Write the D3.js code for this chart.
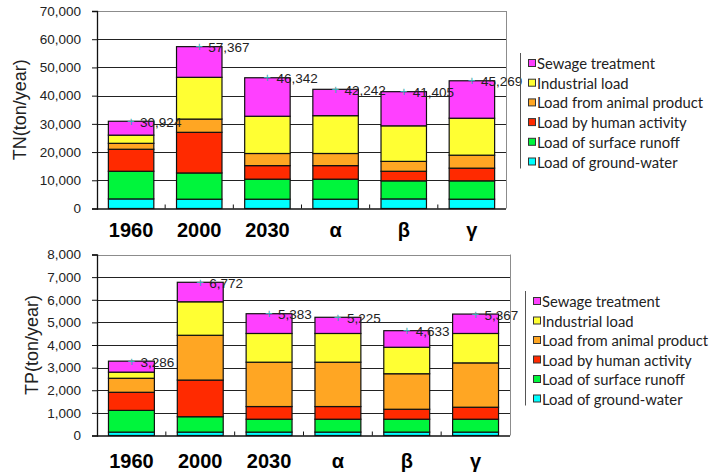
<!DOCTYPE html>
<html>
<head>
<meta charset="utf-8">
<script src="https://cdn.jsdelivr.net/npm/d3@7"></script>
<style>
  body { margin: 0; background: #fff; }
  svg { display: block; }
</style>
</head>
<body>
<div id="chart"></div>
<script>
// Categories and series names
const categories = ["1960", "2000", "2030", "α", "β", "γ"];
const seriesNames = ["Load of ground-water", "Load of surface runoff", "Load by human activity",
    "Load from animal product", "Industrial load", "Sewage treatment"];
const seriesColors = ["#00ffff", "#00f53c", "#ff2a00", "#ffa623", "#ffff33", "#ff40ff"];

// TN values (ton/year)
const tnGround = [3400, 3300, 3300, 3300, 3400, 3300];
const tnSurface = [9800, 9300, 7100, 7100, 6400, 6500];
const tnHuman = [7800, 14400, 4800, 4800, 3400, 4500];
const tnAnimal = [2100, 4700, 4300, 4300, 3500, 4600];
const tnIndustrial = [2900, 14800, 13200, 13400, 12600, 13100];
const tnSewage = [4924, 10867, 13642, 9342, 12105, 13269];
const tnTotals = [30924, 57367, 46342, 42242, 41405, 45269];
const tnTicks = [0, 10000, 20000, 30000, 40000, 50000, 60000, 70000];

// TP values (ton/year)
const tpGround = [150, 150, 150, 150, 150, 150];
const tpSurface = [960, 680, 570, 570, 570, 570];
const tpHuman = [800, 1620, 560, 560, 440, 530];
const tpAnimal = [620, 1980, 1960, 1960, 1570, 1960];
const tpIndustrial = [270, 1480, 1270, 1270, 1170, 1300];
const tpSewage = [486, 862, 873, 715, 733, 857];
const tpTotals = [3286, 6772, 5383, 5225, 4633, 5367];
const tpTicks = [0, 1000, 2000, 3000, 4000, 5000, 6000, 7000, 8000];

const svg = d3.select('#chart')
    .append('svg')
    .attr('width', 713)
    .attr('height', 476);

const fmt = d3.format(',');

function drawChart(opts) {
    const series = opts.series;
    const rows = categories.map((c, i) => {
        let row = { cat: c };
        seriesNames.forEach((s, k) => { row[s] = series[k][i]; });
        return row;
    });
    const stacked = d3.stack().keys(seriesNames)(rows);

    let xScale = d3.scaleBand()
        .domain(categories)
        .range([opts.left, opts.right])
        .paddingInner(0.333)
        .paddingOuter(0.1667);

    let yScale = d3.scaleLinear()
        .domain([0, d3.max(opts.ticks)])
        .range([opts.bottom, opts.top]);

    let g = svg.append('g');

    // gridlines
    g.selectAll('.grid')
        .data(opts.ticks.slice(1))
        .enter()
        .append('line')
        .attr('x1', opts.left)
        .attr('x2', opts.right)
        .attr('y1', d => Math.round(yScale(d)) + 0.5)
        .attr('y2', d => Math.round(yScale(d)) + 0.5)
        .attr('stroke', (d, i, a) => i === a.length - 1 ? '#8c8c8c' : '#222')
        .attr('stroke-width', 1);

    // right border
    g.append('line')
        .attr('x1', opts.right + 0.5).attr('x2', opts.right + 0.5)
        .attr('y1', yScale(d3.max(opts.ticks))).attr('y2', opts.bottom)
        .attr('stroke', '#8c8c8c');

    // stacked bars
    stacked.forEach((layer, k) => {
        g.selectAll(null)
            .data(layer)
            .enter()
            .append('rect')
            .attr('x', d => xScale(d.data.cat))
            .attr('y', d => yScale(d[1]))
            .attr('width', xScale.bandwidth())
            .attr('height', d => yScale(d[0]) - yScale(d[1]))
            .attr('fill', seriesColors[k])
            .attr('stroke', '#111')
            .attr('stroke-width', 1.2);
    });

    // y axis
    let yAxis = d3.axisLeft(yScale)
        .tickValues(opts.ticks)
        .tickFormat(fmt)
        .tickSize(5)
        .tickPadding(11);
    let ya = g.append('g')
        .attr('transform', `translate(${opts.left}, 0)`)
        .call(yAxis);
    ya.select('.domain').attr('stroke', '#111').attr('stroke-width', 1.3);
    ya.selectAll('.tick line').attr('stroke', '#111');
    ya.selectAll('text')
        .style('font-family', '"Liberation Sans", Arial, sans-serif')
        .style('font-size', '13.5px')
        .attr('fill', '#222');

    // x axis line and inner ticks at category boundaries
    g.append('line')
        .attr('x1', opts.left).attr('x2', opts.right)
        .attr('y1', opts.bottom + 0.5).attr('y2', opts.bottom + 0.5)
        .attr('stroke', '#111').attr('stroke-width', 1.3);
    g.selectAll(null)
        .data(categories.slice(0, -1))
        .enter()
        .append('line')
        .attr('x1', d => xScale(d) + xScale.step() * 5 / 6)
        .attr('x2', d => xScale(d) + xScale.step() * 5 / 6)
        .attr('y1', opts.bottom)
        .attr('y2', opts.bottom - 4)
        .attr('stroke', '#111');

    // category labels
    g.selectAll(null)
        .data(categories)
        .enter()
        .append('text')
        .attr('x', d => xScale(d) + xScale.bandwidth() / 2)
        .attr('y', opts.catY)
        .attr('text-anchor', 'middle')
        .attr('dominant-baseline', 'central')
        .style('font-family', '"Liberation Sans", Arial, sans-serif')
        .style('font-weight', 'bold')
        .style('font-size', '20px')
        .text(d => d);

    // total markers and labels
    g.selectAll(null)
        .data(categories)
        .enter()
        .append('text')
        .attr('x', d => xScale(d) + xScale.bandwidth() / 2)
        .attr('y', (d, i) => yScale(opts.totals[i]))
        .attr('text-anchor', 'middle')
        .attr('dominant-baseline', 'central')
        .attr('fill', '#3aaab0')
        .style('font-family', '"Liberation Sans", Arial, sans-serif')
        .style('font-size', '13px')
        .text('+');
    g.selectAll(null)
        .data(categories)
        .enter()
        .append('text')
        .attr('x', d => xScale(d) + xScale.bandwidth() / 2 + 9)
        .attr('y', (d, i) => yScale(opts.totals[i]) + 1)
        .attr('dominant-baseline', 'central')
        .attr('fill', '#222')
        .style('font-family', '"Liberation Sans", Arial, sans-serif')
        .style('font-size', '13.5px')
        .text((d, i) => fmt(opts.totals[i]));

    // y axis title
    g.append('text')
        .attr('transform', `translate(${opts.titleX}, ${(opts.top + opts.bottom) / 2}) rotate(-90)`)
        .attr('text-anchor', 'middle')
        .attr('dominant-baseline', 'central')
        .attr('fill', '#222')
        .style('font-family', '"Liberation Sans", Arial, sans-serif')
        .style('font-size', '18px')
        .text(opts.title);

    // legend
    let legendNames = seriesNames.slice().reverse();
    let legendColors = seriesColors.slice().reverse();
    g.append('line')
        .attr('x1', opts.legX + 0.5).attr('x2', opts.legX + 0.5)
        .attr('y1', opts.legY - 10).attr('y2', opts.legY + 5 * opts.legStep + 7)
        .attr('stroke', '#555');
    let leg = g.selectAll('.lineLegend')
        .data(legendNames)
        .enter()
        .append('g')
        .attr('transform', (d, i) => `translate(${opts.legX + 8}, ${opts.legY + i * opts.legStep})`);
    leg.append('rect')
        .attr('x', 0.5).attr('y', -3.5)
        .attr('width', 7).attr('height', 7)
        .attr('fill', (d, i) => legendColors[i])
        .attr('stroke', '#333')
        .attr('stroke-width', 1);
    leg.append('text')
        .attr('x', 9)
        .attr('y', 0)
        .attr('dominant-baseline', 'central')
        .attr('fill', '#222')
        .style('font-family', 'Lato, "Noto Sans", sans-serif')
        .style('font-size', '14.8px')
        .text(d => d);
}

drawChart({
    series: [tnGround, tnSurface, tnHuman, tnAnimal, tnIndustrial, tnSewage],
    totals: tnTotals, ticks: tnTicks,
    left: 97, right: 506, top: 11, bottom: 208.5,
    catY: 230, titleX: 20, title: 'TN(ton/year)',
    legX: 520, legY: 63, legStep: 19.7
});

drawChart({
    series: [tpGround, tpSurface, tpHuman, tpAnimal, tpIndustrial, tpSewage],
    totals: tpTotals, ticks: tpTicks,
    left: 97, right: 510, top: 254.5, bottom: 435.5,
    catY: 461, titleX: 32, title: 'TP(ton/year)',
    legX: 525, legY: 301, legStep: 19.5
});
</script>
</body>
</html>
